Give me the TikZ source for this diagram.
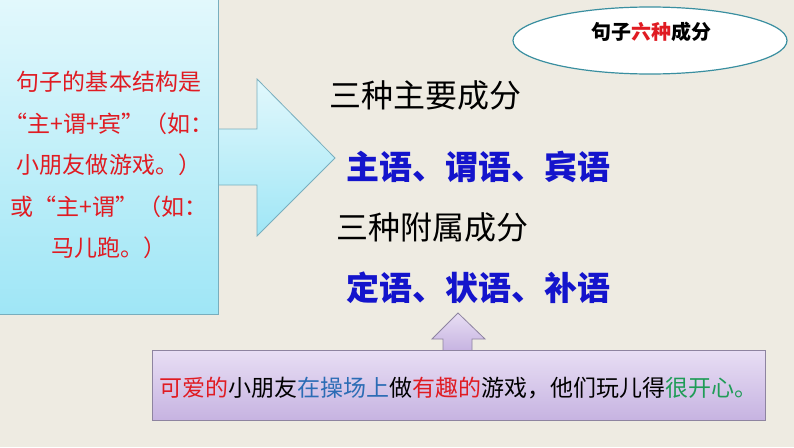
\documentclass[tikz,border=0pt]{standalone}
\usepackage{fontspec}
\setmainfont{Noto Sans CJK SC}
\newfontfamily\cjk{Noto Sans CJK SC}
\usetikzlibrary{shapes.geometric}
\definecolor{bg}{HTML}{EEEBE2}
\definecolor{txtred}{HTML}{E01B22}
\definecolor{hblue}{HTML}{1414CC}
\definecolor{sblue}{HTML}{2B6CB5}
\definecolor{sgreen}{HTML}{1F9C57}
\definecolor{cyantop}{HTML}{E2F8FC}
\definecolor{cyanbot}{HTML}{9FE6F6}
\definecolor{cyanline}{HTML}{78AEBE}
\definecolor{lavtop}{HTML}{E8DEF4}
\definecolor{lavbot}{HTML}{C6B3E1}
\definecolor{lavline}{HTML}{8E84A0}
\definecolor{elline}{HTML}{3A8FA0}
\tikzset{
  x=1pt, y=-1pt,
  cyanshape/.style={draw=cyanline, line width=0.8pt, top color=cyantop, bottom color=cyanbot},
  lavshape/.style={draw=lavline, line width=0.8pt, top color=lavtop, bottom color=lavbot},
  heading/.style={inner sep=0pt, anchor=west, font=\cjk\fontsize{32}{32}\selectfont, text=black},
  parts/.style={inner sep=0pt, anchor=west, font=\cjk\bfseries\fontsize{33}{33}\selectfont, text=hblue},
}
\begin{document}
\begin{tikzpicture}
\fill[bg] (0,0) rectangle (794,447);
\useasboundingbox (0,0) rectangle (794,447);
% right block arrow
\path[cyanshape] (218,129) -- (257,129) -- (257,79) -- (335,158) -- (257,236) -- (257,185) -- (218,185) -- cycle;
% left box
\node[cyanshape, rectangle, minimum width=219pt, minimum height=315pt, inner sep=0pt, anchor=north west] (leftbox) at (-1,-1) {};
\node[inner sep=0pt, align=center, text=txtred, font=\cjk\fontsize{23}{41.5}\selectfont] (lefttext) at (109,165)
  {句子的基本结构是\\“主+谓+宾”（如：\\小朋友做游戏。）\\或“主+谓”（如：\\马儿跑。）};
% ellipse
\node[ellipse, draw=elline, line width=1.2pt, fill=white, minimum width=274pt, minimum height=67pt, inner sep=0pt] (title) at (650,40.5) {};
\node[inner sep=0pt, font=\cjk\bfseries\fontsize{20}{20}\selectfont] (titletext) at (651,32) {句子\textcolor{txtred}{六种}成分};
% headings
\node[heading] (main) at (329,95) {三种主要成分};
\node[parts] (mainparts) at (346,167) {主语、谓语、宾语};
\node[heading] (attach) at (336,227) {三种附属成分};
\node[parts] (attachparts) at (346,288) {定语、状语、补语};
% up arrow
\path[lavshape] (443,351) -- (443,339) -- (432,339) -- (458,313) -- (485,339) -- (472,339) -- (472,351);
% bottom box
\node[lavshape, rectangle, minimum width=613pt, minimum height=70pt, inner sep=0pt, anchor=north west] (example) at (152,350) {};
\node[inner sep=0pt, font=\cjk\fontsize{23}{23}\selectfont] (exampletext) at (458,388)
  {\textcolor{txtred}{可爱的}小朋友\textcolor{sblue}{在操场上}做\textcolor{txtred}{有趣的}游戏，他们玩儿得\textcolor{sgreen}{很开心。}};
\end{tikzpicture}
\end{document}
